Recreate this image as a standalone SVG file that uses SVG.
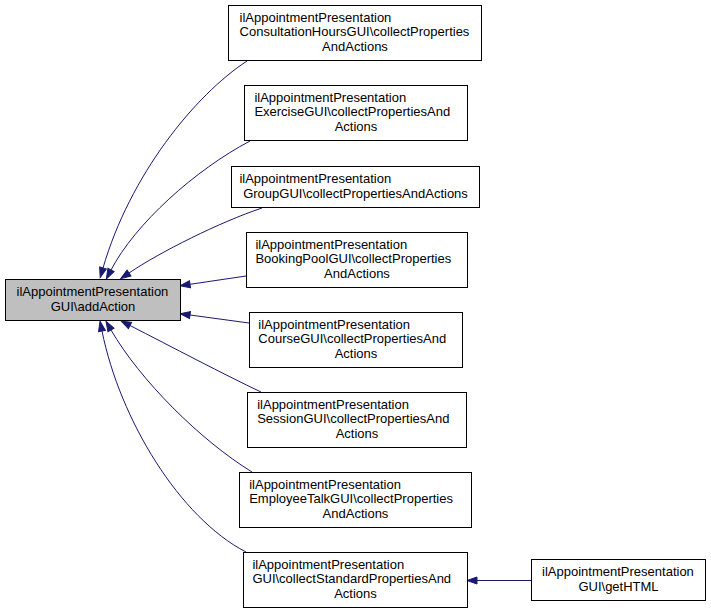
<svg xmlns="http://www.w3.org/2000/svg" width="711" height="613" viewBox="0 0 711 613">
<style>
  .node rect { fill: #ffffff; stroke: #000000; stroke-width: 1; }
  .node.main rect { fill: #bfbfbf; }
  .node text { font-family: "Liberation Sans", Arial, sans-serif; font-size: 13px; fill: #000000; }
  .c { text-anchor: middle; }
  .edge { fill: none; stroke: #191970; stroke-width: 1; marker-end: url(#arr); }
</style>
<defs>
  <marker id="arr" markerUnits="userSpaceOnUse" markerWidth="12" markerHeight="9" refX="0" refY="3.5" orient="auto" overflow="visible">
    <path d="M0,0 L10,3.5 L0,7 z" fill="#191970" stroke="#191970" stroke-width="1"/>
  </marker>
</defs>
<rect width="711" height="613" fill="#ffffff"/>
<g id="connectors">
  <path class="edge" d="M247,61 C195,95 130,175 103,268"/>
  <path class="edge" d="M250,141 C195,170 135,224 111,270"/>
  <path class="edge" d="M262,208 C220,222 160,252 129,273"/>
  <path class="edge" d="M246,276 L190,284.3"/>
  <path class="edge" d="M249,323 L190,315"/>
  <path class="edge" d="M261,392 C225,375 170,346 130,325.5"/>
  <path class="edge" d="M252,472 C200,440 140,380 111,330"/>
  <path class="edge" d="M246,552 C180,518 120,420 102,331"/>
  <path class="edge" d="M531,580.5 L477,580.5"/>
</g>
<g id="n0" class="node main">
  <rect x="5.5" y="279.5" width="175" height="41"/>
  <text x="16.6" y="296">ilAppointmentPresentation</text>
  <text class="c" x="93" y="310.5">GUI\addAction</text>
</g>
<g id="n1" class="node">
  <rect x="228.5" y="5.5" width="253" height="55"/>
  <text x="239.6" y="21.5">ilAppointmentPresentation</text>
  <text x="239.6" y="36">ConsultationHoursGUI\collectProperties</text>
  <text class="c" x="355" y="50.5">AndActions</text>
</g>
<g id="n2" class="node">
  <rect x="244.5" y="85.5" width="223" height="55"/>
  <text x="254.4" y="101.5">ilAppointmentPresentation</text>
  <text x="254.4" y="116">ExerciseGUI\collectPropertiesAnd</text>
  <text class="c" x="356" y="130.5">Actions</text>
</g>
<g id="n3" class="node">
  <rect x="231.5" y="166.5" width="248" height="41"/>
  <text x="239.4" y="183">ilAppointmentPresentation</text>
  <text class="c" x="355.5" y="197.5">GroupGUI\collectPropertiesAndActions</text>
</g>
<g id="n4" class="node">
  <rect x="246.5" y="232.5" width="221" height="55"/>
  <text x="255.4" y="248.5">ilAppointmentPresentation</text>
  <text x="255.4" y="263">BookingPoolGUI\collectProperties</text>
  <text class="c" x="357" y="277.5">AndActions</text>
</g>
<g id="n5" class="node">
  <rect x="249.5" y="312.5" width="213" height="55"/>
  <text x="258.3" y="328.5">ilAppointmentPresentation</text>
  <text x="258.3" y="343">CourseGUI\collectPropertiesAnd</text>
  <text class="c" x="356" y="357.5">Actions</text>
</g>
<g id="n6" class="node">
  <rect x="247.5" y="392.5" width="219" height="55"/>
  <text x="257.2" y="408.5">ilAppointmentPresentation</text>
  <text x="257.2" y="423">SessionGUI\collectPropertiesAnd</text>
  <text class="c" x="357" y="437.5">Actions</text>
</g>
<g id="n7" class="node">
  <rect x="239.5" y="472.5" width="232" height="55"/>
  <text x="249.2" y="488.5">ilAppointmentPresentation</text>
  <text x="249.2" y="503">EmployeeTalkGUI\collectProperties</text>
  <text class="c" x="355.5" y="517.5">AndActions</text>
</g>
<g id="n8" class="node">
  <rect x="243.5" y="552.5" width="224" height="55"/>
  <text x="252.4" y="568.5">ilAppointmentPresentation</text>
  <text x="252.4" y="583">GUI\collectStandardPropertiesAnd</text>
  <text class="c" x="355.5" y="597.5">Actions</text>
</g>
<g id="n9" class="node">
  <rect x="531.5" y="559.5" width="174" height="41"/>
  <text x="542.1" y="576">ilAppointmentPresentation</text>
  <text class="c" x="618.5" y="590.5">GUI\getHTML</text>
</g>
</svg>
